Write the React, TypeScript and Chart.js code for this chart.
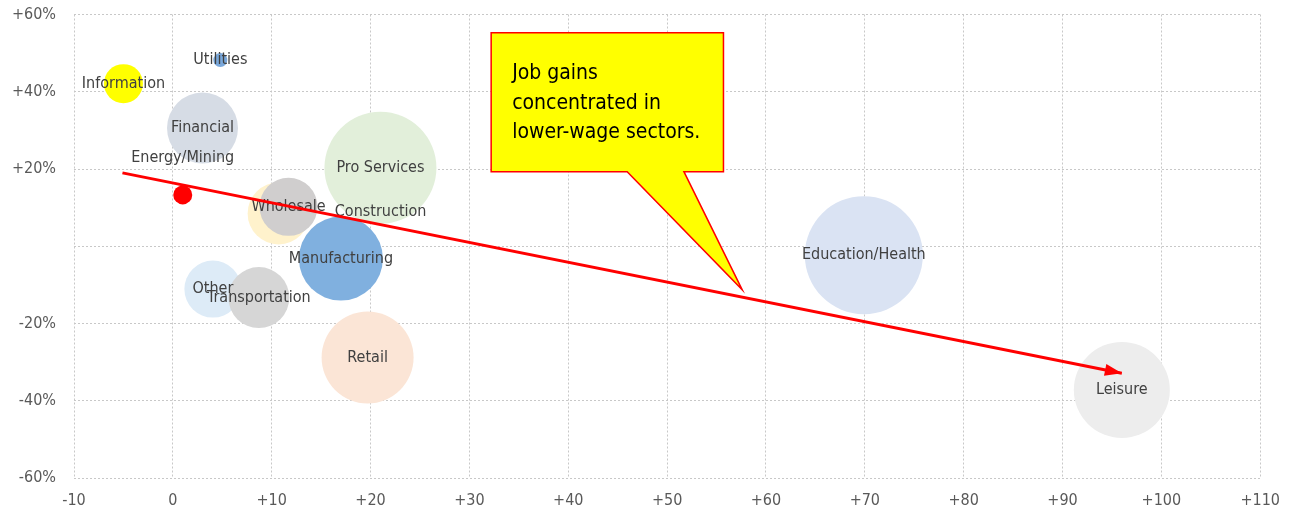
import React, { useEffect, useRef } from "react";
import { Chart, registerables } from "chart.js";

Chart.register(...registerables);

// ---- data ----
const categories = [
  "Information",
  "Utilities",
  "Financial",
  "Energy/Mining",
  "Pro Services",
  "Construction",
  "Wholesale",
  "Manufacturing",
  "Other",
  "Transportation",
  "Retail",
  "Education/Health",
  "Leisure",
];
const jobGains = [-5.0, 4.8, 3.0, 1.0, 21.0, 10.7, 11.7, 17.0, 4.05, 8.7, 19.7, 69.9, 96.0];
const wageChange = [42.1, 48.2, 30.6, 13.3, 20.3, 8.5, 10.2, -3.2, -11.1, -13.3, -28.8, -2.3, -37.2];
const bubbleSizes = [19.5, 7, 35.5, 9.5, 56, 31, 29, 42, 28.5, 30.5, 46, 59, 48];

const trendX = [-5.1, 96.0];
const trendY = [19.0, -32.9];

const xTickLabels = ["-10", "0", "+10", "+20", "+30", "+40", "+50", "+60", "+70", "+80", "+90", "+100", "+110"];
const yTickLabels = ["-60%", "-40%", "-20%", "", "+20%", "+40%", "+60%"];

const calloutLines = ["Job gains", "concentrated in", "lower-wage sectors."];

// ---- styles ----
const bubbleColors = [
  "#ffff00",
  "#7aa8db",
  "#d6dce5",
  "#ff0000",
  "#e2efda",
  "#fff2cc",
  "#d0cece",
  "#80b0df",
  "#ddebf7",
  "#d6d6d6",
  "#fbe5d6",
  "#dae3f3",
  "#ededed",
];
// label offsets in pixels from bubble centre
const labelOffsets: Record<string, [number, number]> = {
  "Energy/Mining": [0, -37],
  Construction: [102, -2],
};
// callout geometry, in axis units
const callout = { x0: 32.2, x1: 55.7, yTop: 55.3, yBottom: 19.3, tailX0: 45.96, tailX1: 51.7, tipX: 57.6, tipY: -11.3 };

const FONT = "'DejaVu Sans Condensed', 'Liberation Sans Narrow', sans-serif";

const labelPlugin = {
  id: "bubbleLabels",
  afterDatasetDraw(chart: any, args: any) {
    if (args.index !== 0) return;
    const ctx = chart.ctx;
    ctx.save();
    ctx.font = `16px ${FONT}`;
    ctx.fillStyle = "#404040";
    ctx.textAlign = "center";
    ctx.textBaseline = "middle";
    args.meta.data.forEach((el: any, i: number) => {
      const name = categories[i];
      const off = labelOffsets[name] || [0, 0];
      ctx.fillText(name, el.x + off[0], el.y + off[1]);
    });
    ctx.restore();
  },
};

const annotationPlugin = {
  id: "annotations",
  afterDatasetsDraw(chart: any) {
    const ctx = chart.ctx;
    const xs = chart.scales.x;
    const ys = chart.scales.y;
    // arrowhead
    const meta = chart.getDatasetMeta(1);
    const p0 = meta.data[0];
    const p1 = meta.data[1];
    const ang = Math.atan2(p1.y - p0.y, p1.x - p0.x);
    const len = 17;
    const hw = 6;
    ctx.save();
    ctx.fillStyle = "#ff0000";
    ctx.beginPath();
    ctx.moveTo(p1.x, p1.y);
    ctx.lineTo(p1.x - len * Math.cos(ang) + hw * Math.sin(ang), p1.y - len * Math.sin(ang) - hw * Math.cos(ang));
    ctx.lineTo(p1.x - len * Math.cos(ang) - hw * Math.sin(ang), p1.y - len * Math.sin(ang) + hw * Math.cos(ang));
    ctx.closePath();
    ctx.fill();

    // callout
    const L = xs.getPixelForValue(callout.x0);
    const R = xs.getPixelForValue(callout.x1);
    const T = ys.getPixelForValue(callout.yTop);
    const B = ys.getPixelForValue(callout.yBottom);
    const t0 = xs.getPixelForValue(callout.tailX0);
    const t1 = xs.getPixelForValue(callout.tailX1);
    const tx = xs.getPixelForValue(callout.tipX);
    const ty = ys.getPixelForValue(callout.tipY);
    ctx.beginPath();
    ctx.moveTo(L, T);
    ctx.lineTo(R, T);
    ctx.lineTo(R, B);
    ctx.lineTo(t1, B);
    ctx.lineTo(tx, ty);
    ctx.lineTo(t0, B);
    ctx.lineTo(L, B);
    ctx.closePath();
    ctx.fillStyle = "#ffff00";
    ctx.fill();
    ctx.strokeStyle = "#ff0000";
    ctx.lineWidth = 1.5;
    ctx.lineJoin = "miter";
    ctx.stroke();
    ctx.fillStyle = "#000000";
    ctx.font = `21px ${FONT}`;
    ctx.textAlign = "left";
    ctx.textBaseline = "middle";
    calloutLines.forEach((line, i) => {
      ctx.fillText(line, L + 21, T + 41 + i * 29.5);
    });
    ctx.restore();
  },
};

export default function App() {
  const ref = useRef<HTMLCanvasElement | null>(null);
  useEffect(() => {
    if (!ref.current) return;
    const chart = new Chart(ref.current, {
      type: "bubble",
      data: {
        datasets: [
          {
            type: "bubble",
            data: categories.map((_, i) => ({ x: jobGains[i], y: wageChange[i], r: bubbleSizes[i] })),
            backgroundColor: bubbleColors,
            borderWidth: 0,
            hoverRadius: 0,
            order: 1,
          } as any,
          {
            type: "line",
            data: trendX.map((x, i) => ({ x, y: trendY[i] })),
            borderColor: "#ff0000",
            borderWidth: 3,
            pointRadius: 0,
            fill: false,
            order: 0,
          } as any,
        ],
      },
      options: {
        animation: false,
        responsive: false,
        events: [],
        layout: { autoPadding: false, padding: { left: 0, top: 14.5, right: 31.5, bottom: 0 } },
        plugins: { legend: { display: false }, tooltip: { enabled: false } },
        scales: {
          x: {
            type: "linear",
            min: -10,
            max: 110,
            afterFit: (s: any) => {
              s.height = 34;
            },
            grid: { color: "#c8c8c8", lineWidth: 1, drawTicks: false },
            border: { display: false, dash: [2, 2] },
            ticks: {
              stepSize: 10,
              padding: 13,
              color: "#595959",
              font: { family: FONT, size: 16 },
              callback: (_v: any, i: number) => xTickLabels[i],
            },
          },
          y: {
            type: "linear",
            min: -60,
            max: 60,
            afterFit: (s: any) => {
              s.width = 74;
            },
            grid: { color: "#c8c8c8", lineWidth: 1, drawTicks: true, tickLength: 18, tickColor: "rgba(0,0,0,0)" },
            border: { display: false, dash: [2, 2] },
            ticks: {
              stepSize: 20,
              padding: 0,
              color: "#595959",
              font: { family: FONT, size: 16 },
              callback: (_v: any, i: number) => yTickLabels[i],
            },
          },
        },
      },
      plugins: [labelPlugin, annotationPlugin],
    } as any);
    return () => chart.destroy();
  }, []);
  return (
    <div style={{ position: "absolute", left: 0, top: 0, width: 1293, height: 512 }}>
      <canvas ref={ref} width={1293} height={512} />
    </div>
  );
}
